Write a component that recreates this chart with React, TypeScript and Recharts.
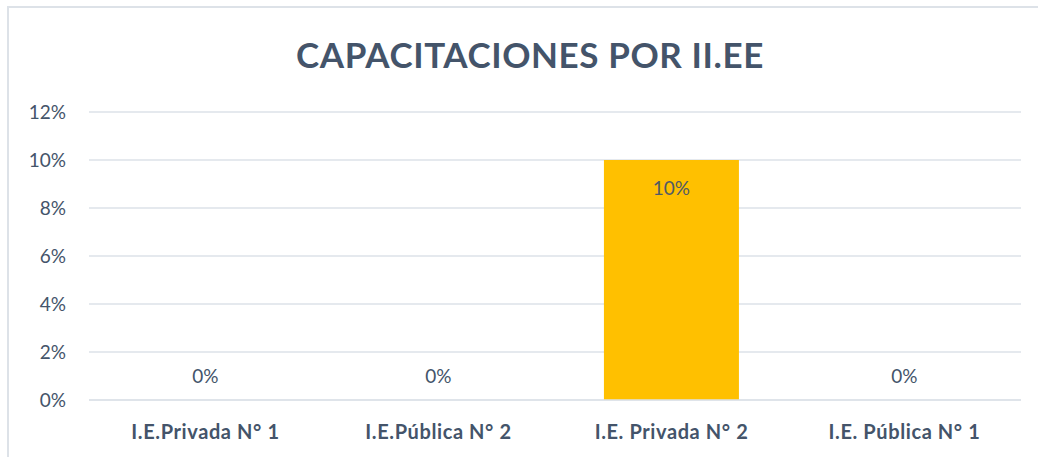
import { BarChart, Bar, XAxis, YAxis, CartesianGrid } from "recharts";

/* ── Data ── */

const categories = ["I.E.Privada N° 1", "I.E.Pública N° 2", "I.E. Privada N° 2", "I.E. Pública N° 1"];
const shares = [0, 0, 0.1, 0];
const yTicks = [0, 0.02, 0.04, 0.06, 0.08, 0.1, 0.12];

const data = categories.map((name, i) => ({ name, value: shares[i] }));

/* ── Style ── */

const FONT = "Lato, 'Open Sans', sans-serif";
const TEXT = "#44546A";
const GRID = "#DDE2E8";
const BAR = "#FFC000";

const pct = (v: number) => `${Math.round(v * 100)}%`;

// Bar + Excel-style "inside end" label; zero bars get the label just above the baseline
function BarWithLabel(props: any) {
  const { x, y, width, height, value } = props;
  const v = Array.isArray(value) ? value[1] - value[0] : value;
  const cx = x + width / 2;
  const cy = v === 0 ? y + height - 25 : y + 27;
  return (
    <g>
      {height > 0 && <rect x={x} y={y} width={width} height={height} fill={BAR} />}
      <text
        x={cx}
        y={cy}
        textAnchor="middle"
        dominantBaseline="central"
        fontFamily={FONT}
        fontSize={19}
        fill={v === 0 ? TEXT : "#505A66"}
      >
        {pct(v)}
      </text>
    </g>
  );
}

export default function App() {
  return (
    <div
      style={{
        position: "absolute",
        left: 0,
        top: 0,
        width: 1038,
        height: 457,
        background: "#fff",
        overflow: "hidden",
      }}
    >
      <div
        style={{
          position: "absolute",
          left: 7,
          top: 6,
          width: 1040,
          height: 460,
          borderTop: `2px solid ${GRID}`,
          borderLeft: `2px solid ${GRID}`,
          boxSizing: "border-box",
        }}
      />
      <div
        style={{
          position: "absolute",
          left: 0,
          width: 1060,
          top: 33,
          textAlign: "center",
          fontFamily: FONT,
          fontWeight: 700,
          fontSize: 35,
          letterSpacing: 0.6,
          color: TEXT,
        }}
      >
        CAPACITACIONES POR II.EE
      </div>
      <BarChart
        width={1038}
        height={457}
        data={data}
        margin={{ top: 112, right: 17, left: 0, bottom: 0 }}
        barCategoryGap="21%"
      >
        <CartesianGrid vertical={false} stroke={GRID} strokeWidth={1.5} />
        <XAxis
          dataKey="name"
          height={57}
          axisLine={{ stroke: GRID, strokeWidth: 1.5 }}
          tickLine={false}
          tickMargin={19}
          tick={{ fontFamily: FONT, fontSize: 20, fontWeight: 700, fill: TEXT, letterSpacing: 0.6 }}
        />
        <YAxis
          width={89}
          domain={[0, 0.12]}
          ticks={yTicks}
          tickFormatter={pct}
          axisLine={false}
          tickLine={false}
          tickMargin={17}
          tick={{ fontFamily: FONT, fontSize: 19, fill: TEXT }}
        />
        <Bar dataKey="value" fill={BAR} isAnimationActive={false} shape={BarWithLabel} />
      </BarChart>
    </div>
  );
}
